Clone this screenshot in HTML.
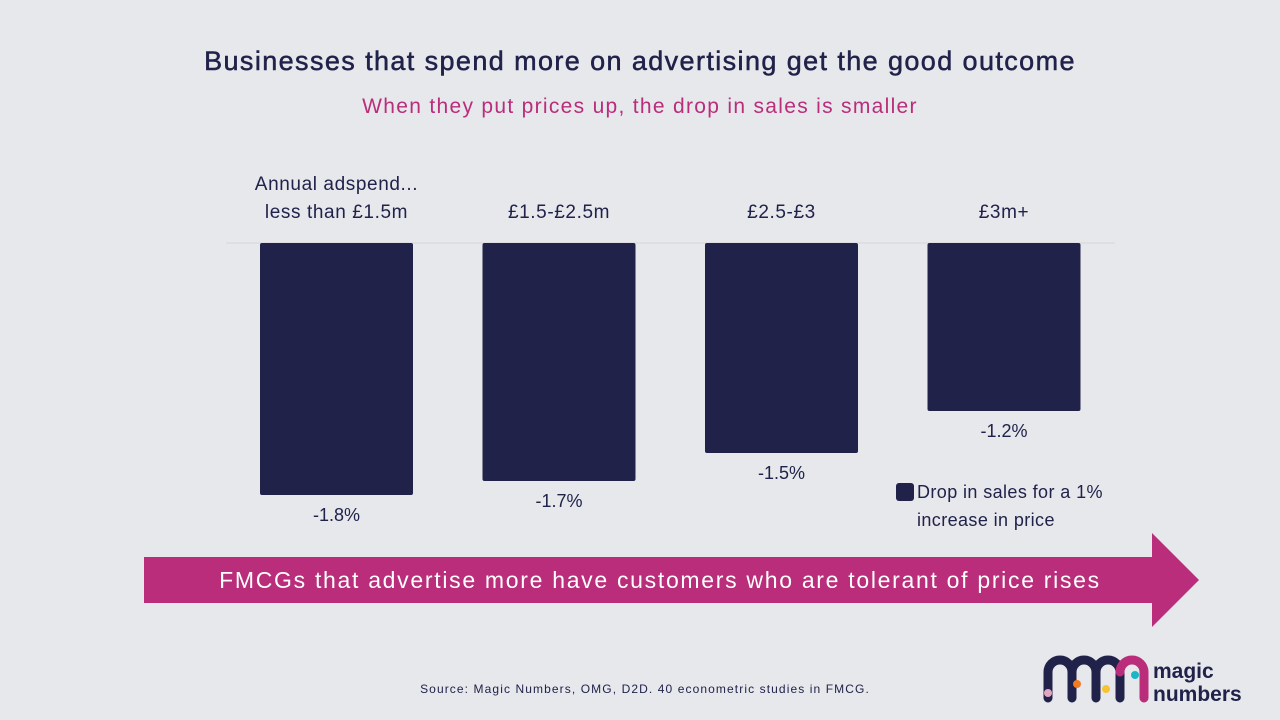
<!DOCTYPE html>
<html><head><meta charset="utf-8"><style>
body{margin:0;width:1280px;height:720px;background:#e7e8ec;font-family:"Liberation Sans",sans-serif;position:relative;overflow:hidden;color:#20224a}
.t{position:absolute;white-space:nowrap}
</style></head><body>
<div class="t" style="left:0;width:1280px;text-align:center;top:46px;font-size:27px;letter-spacing:1.4px;-webkit-text-stroke:0.5px #20224a;color:#20224a">Businesses that spend more on advertising get the good outcome</div>
<div class="t" style="left:0;width:1280px;text-align:center;top:95px;font-size:21px;letter-spacing:1.3px;color:#b92d7a">When they put prices up, the drop in sales is smaller</div>
<svg id="c" width="1280" height="720" style="position:absolute;left:0;top:0"></svg>
<svg width="1280" height="720" style="position:absolute;left:0;top:0">
<polygon points="144,557 1152,557 1152,533 1199,580 1152,627 1152,603 144,603" fill="#b92d7a"/>
<text x="660" y="588" text-anchor="middle" font-size="23" letter-spacing="1.7" fill="#fff" font-family="Liberation Sans, sans-serif">FMCGs that advertise more have customers who are tolerant of price rises</text>
<text x="645" y="693" text-anchor="middle" font-size="12" letter-spacing="1.1" fill="#20224a" font-family="Liberation Sans, sans-serif">Source: Magic Numbers, OMG, D2D. 40 econometric studies in FMCG.</text>
<g fill="none" stroke-width="9" stroke-linecap="round">
<path d="M1048,698 V672 a12,12 0 0 1 24,0 V698 M1072,672 a12,12 0 0 1 24,0 V698 M1096,672 a12,12 0 0 1 24,0 V698" stroke="#20224a"/>
<path d="M1120,672 a12,12 0 0 1 24,0 V698" stroke="#b92d7a"/>
<circle cx="1048" cy="693" r="4" fill="#e3a6c0" stroke="none"/>
<circle cx="1077" cy="684" r="4" fill="#f07b22" stroke="none"/>
<circle cx="1106" cy="689" r="4" fill="#f6c433" stroke="none"/>
<circle cx="1135" cy="675" r="4" fill="#1ab6c8" stroke="none"/>
<text x="1153" y="678" font-size="21" font-weight="bold" fill="#20224a" stroke="none" font-family="Liberation Sans, sans-serif">magic</text>
<text x="1153" y="701" font-size="21" font-weight="bold" fill="#20224a" stroke="none" font-family="Liberation Sans, sans-serif">numbers</text>
</g>
</svg>
<script>
const categories=["less than £1.5m","£1.5-£2.5m","£2.5-£3","£3m+"];
const values=[-1.8,-1.7,-1.5,-1.2];
const valueLabels=["-1.8%","-1.7%","-1.5%","-1.2%"];
const svg=document.getElementById('c');const NS='http://www.w3.org/2000/svg';
const y0=243,pxPerUnit=140,x0=260,step=222.5,bw=153;
const yS=v=>y0-v*pxPerUnit;const xS=i=>x0+i*step;
function mk(t,a){const e=document.createElementNS(NS,t);for(const k in a)e.setAttribute(k,a[k]);svg.appendChild(e);return e;}
const g=mk('line',{x1:226,x2:1115,y1:y0,y2:y0,stroke:'#d4d5da','stroke-width':1});


const hdr=mk('text',{x:xS(0)+bw/2,y:190,'text-anchor':'middle','font-size':19,'letter-spacing':0.6,fill:'#20224a','font-family':'Liberation Sans, sans-serif'});
hdr.textContent='Annual adspend...';


values.forEach((v,i)=>{
 const yb=yS(v);
 const r=mk('rect',{x:xS(i),y:y0,width:bw,height:yb-y0,fill:'#20224a',rx:2});
 
 
 const c=mk('text',{x:xS(i)+bw/2,y:218,'text-anchor':'middle','font-size':19,'letter-spacing':0.6,fill:'#20224a','font-family':'Liberation Sans, sans-serif'});
 c.textContent=categories[i];
 
 
 const l=mk('text',{x:xS(i)+bw/2,y:yb+26,'text-anchor':'middle','font-size':18,fill:'#20224a','font-family':'Liberation Sans, sans-serif'});
 l.textContent=valueLabels[i];
 
 
});
const sw=mk('rect',{x:896,y:483,width:18,height:18,rx:3,fill:'#20224a'});


const l1=mk('text',{x:917,y:498,'font-size':18,'letter-spacing':0.4,fill:'#20224a','font-family':'Liberation Sans, sans-serif'});l1.textContent='Drop in sales for a 1%';


const l2=mk('text',{x:917,y:526,'font-size':18,'letter-spacing':0.4,fill:'#20224a','font-family':'Liberation Sans, sans-serif'});l2.textContent='increase in price';


</script>
</body></html>
